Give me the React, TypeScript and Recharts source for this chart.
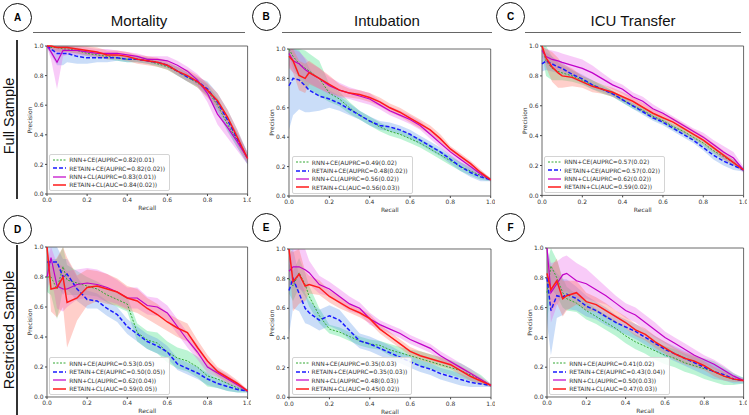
import { ComposedChart, Area, Line, XAxis, YAxis, ReferenceArea, Legend, Label } from 'recharts'

// recall grid shared by every curve
const RECALL = [0, 0.02, 0.05, 0.08, 0.1, 0.15, 0.2, 0.25, 0.3, 0.35, 0.4, 0.45, 0.5, 0.55, 0.6, 0.65, 0.7, 0.75, 0.8, 0.85, 0.9, 0.95, 1]
const TICKS = [0, 0.2, 0.4, 0.6, 0.8, 1]

// A: mortality, full sample
const mortFullRnnCe = [1.0, 0.99, 0.99, 0.98, 0.98, 0.97, 0.95, 0.94, 0.93, 0.92, 0.91, 0.91, 0.90, 0.88, 0.86, 0.83, 0.79, 0.75, 0.70, 0.60, 0.47, 0.36, 0.24]
const mortFullRnnCeSd = [0.01, 0.02, 0.02, 0.02, 0.02, 0.02, 0.02, 0.02, 0.02, 0.02, 0.02, 0.02, 0.02, 0.02, 0.02, 0.03, 0.03, 0.03, 0.04, 0.05, 0.05, 0.05, 0.04]
const mortFullRetCe = [1.0, 0.98, 0.95, 0.95, 0.95, 0.93, 0.92, 0.92, 0.92, 0.92, 0.91, 0.91, 0.90, 0.89, 0.87, 0.83, 0.79, 0.76, 0.71, 0.62, 0.50, 0.37, 0.24]
const mortFullRetCeSd = [0.01, 0.04, 0.08, 0.08, 0.06, 0.05, 0.04, 0.03, 0.03, 0.02, 0.02, 0.02, 0.02, 0.02, 0.02, 0.03, 0.03, 0.03, 0.05, 0.06, 0.07, 0.06, 0.04]
const mortFullRnnCl = [1.0, 0.96, 0.89, 0.97, 0.97, 0.97, 0.96, 0.95, 0.95, 0.95, 0.94, 0.93, 0.91, 0.91, 0.90, 0.87, 0.83, 0.77, 0.68, 0.54, 0.45, 0.35, 0.24]
const mortFullRnnClSd = [0.01, 0.05, 0.18, 0.04, 0.03, 0.03, 0.03, 0.03, 0.03, 0.02, 0.02, 0.02, 0.02, 0.02, 0.03, 0.03, 0.03, 0.04, 0.06, 0.07, 0.07, 0.06, 0.04]
const mortFullRetCl = [1.0, 1.0, 0.99, 0.99, 0.99, 0.98, 0.97, 0.96, 0.94, 0.94, 0.93, 0.91, 0.90, 0.89, 0.87, 0.83, 0.80, 0.76, 0.70, 0.63, 0.52, 0.38, 0.24]
const mortFullRetClSd = [0.01, 0.02, 0.03, 0.03, 0.03, 0.03, 0.03, 0.03, 0.03, 0.03, 0.03, 0.03, 0.03, 0.03, 0.03, 0.03, 0.04, 0.04, 0.05, 0.05, 0.05, 0.05, 0.03]
const mortFullLabels = ['RNN+CE(AUPRC=0.82(0.01)', 'RETAIN+CE(AUPRC=0.82(0.02))', 'RNN+CL(AUPRC=0.83(0.01))', 'RETAIN+CL(AUC=0.84(0.02))']

// B: intubation, full sample
const intFullRnnCe = [1.0, 0.95, 0.9, 0.87, 0.85, 0.8, 0.7, 0.66, 0.6, 0.55, 0.51, 0.47, 0.44, 0.42, 0.39, 0.36, 0.32, 0.28, 0.24, 0.2, 0.17, 0.14, 0.11]
const intFullRnnCeSd = [0.05, 0.08, 0.1, 0.12, 0.12, 0.12, 0.06, 0.05, 0.04, 0.03, 0.03, 0.03, 0.03, 0.03, 0.03, 0.03, 0.03, 0.03, 0.03, 0.03, 0.03, 0.03, 0.01]
const intFullRetCe = [0.75, 0.8, 0.79, 0.75, 0.72, 0.68, 0.66, 0.63, 0.59, 0.55, 0.51, 0.48, 0.47, 0.45, 0.42, 0.38, 0.34, 0.3, 0.25, 0.2, 0.16, 0.13, 0.11]
const intFullRetCeSd = [0.3, 0.25, 0.2, 0.18, 0.15, 0.1, 0.06, 0.05, 0.04, 0.03, 0.03, 0.03, 0.03, 0.03, 0.03, 0.03, 0.03, 0.03, 0.03, 0.03, 0.03, 0.03, 0.01]
const intFullRnnCl = [0.97, 0.92, 0.9, 0.86, 0.84, 0.8, 0.75, 0.72, 0.7, 0.68, 0.66, 0.62, 0.58, 0.55, 0.52, 0.48, 0.42, 0.36, 0.3, 0.25, 0.2, 0.15, 0.11]
const intFullRnnClSd = [0.08, 0.08, 0.08, 0.08, 0.07, 0.07, 0.06, 0.05, 0.04, 0.04, 0.04, 0.03, 0.03, 0.03, 0.03, 0.03, 0.03, 0.03, 0.03, 0.03, 0.03, 0.02, 0.01]
const intFullRetCl = [0.95, 0.92, 0.82, 0.8, 0.84, 0.8, 0.76, 0.72, 0.7, 0.69, 0.67, 0.64, 0.6, 0.57, 0.53, 0.49, 0.45, 0.39, 0.32, 0.27, 0.22, 0.16, 0.11]
const intFullRetClSd = [0.08, 0.08, 0.1, 0.1, 0.08, 0.07, 0.06, 0.04, 0.03, 0.03, 0.03, 0.03, 0.03, 0.03, 0.03, 0.03, 0.03, 0.03, 0.02, 0.02, 0.02, 0.02, 0.01]
const intFullLabels = ['RNN+CE(AUPRC=0.49(0.02)', 'RETAIN+CE(AUPRC=0.48(0.02))', 'RNN+CL(AUPRC=0.56(0.02))', 'RETAIN+CL(AUC=0.56(0.03))']

// C: ICU transfer, full sample
const icuFullRnnCe = [1.0, 0.9, 0.85, 0.83, 0.82, 0.8, 0.77, 0.74, 0.71, 0.68, 0.64, 0.6, 0.57, 0.53, 0.5, 0.46, 0.43, 0.39, 0.35, 0.3, 0.26, 0.22, 0.17]
const icuFullRnnCeSd = [0.05, 0.1, 0.08, 0.06, 0.05, 0.04, 0.03, 0.03, 0.03, 0.02, 0.02, 0.02, 0.02, 0.02, 0.02, 0.02, 0.02, 0.02, 0.02, 0.02, 0.02, 0.02, 0.01]
const icuFullRetCe = [0.88, 0.9, 0.88, 0.86, 0.85, 0.81, 0.78, 0.74, 0.71, 0.68, 0.64, 0.6, 0.56, 0.52, 0.49, 0.45, 0.41, 0.37, 0.32, 0.27, 0.23, 0.2, 0.17]
const icuFullRetCeSd = [0.05, 0.06, 0.05, 0.04, 0.04, 0.03, 0.03, 0.03, 0.02, 0.02, 0.02, 0.02, 0.02, 0.02, 0.02, 0.02, 0.02, 0.02, 0.02, 0.03, 0.03, 0.03, 0.01]
const icuFullRnnCl = [0.97, 0.93, 0.91, 0.9, 0.89, 0.87, 0.85, 0.82, 0.78, 0.74, 0.71, 0.66, 0.63, 0.58, 0.55, 0.51, 0.47, 0.43, 0.39, 0.34, 0.29, 0.25, 0.17]
const icuFullRnnClSd = [0.04, 0.05, 0.06, 0.06, 0.06, 0.06, 0.06, 0.05, 0.04, 0.03, 0.03, 0.03, 0.03, 0.03, 0.02, 0.02, 0.02, 0.02, 0.03, 0.03, 0.04, 0.04, 0.02]
const icuFullRetCl = [1.0, 0.92, 0.86, 0.82, 0.8, 0.79, 0.76, 0.73, 0.71, 0.69, 0.66, 0.63, 0.59, 0.55, 0.52, 0.49, 0.45, 0.41, 0.37, 0.32, 0.27, 0.22, 0.17]
const icuFullRetClSd = [0.02, 0.06, 0.1, 0.1, 0.08, 0.06, 0.04, 0.04, 0.03, 0.03, 0.03, 0.03, 0.03, 0.03, 0.03, 0.03, 0.03, 0.03, 0.03, 0.03, 0.03, 0.02, 0.01]
const icuFullLabels = ['RNN+CE(AUPRC=0.57(0.02)', 'RETAIN+CE(AUPRC=0.57(0.02))', 'RNN+CL(AUPRC=0.62(0.02))', 'RETAIN+CL(AUC=0.59(0.02))']

// D: mortality, restricted sample
const mortResRnnCe = [0.8, 0.8, 0.72, 0.87, 0.78, 0.76, 0.74, 0.72, 0.68, 0.65, 0.62, 0.43, 0.38, 0.36, 0.3, 0.26, 0.24, 0.2, 0.14, 0.12, 0.09, 0.06, 0.04]
const mortResRnnCeSd = [0.1, 0.12, 0.2, 0.15, 0.1, 0.08, 0.06, 0.05, 0.05, 0.05, 0.05, 0.06, 0.06, 0.07, 0.07, 0.07, 0.07, 0.07, 0.07, 0.06, 0.05, 0.03, 0.01]
const mortResRetCe = [0.9, 0.9, 0.9, 0.8, 0.82, 0.72, 0.65, 0.64, 0.59, 0.55, 0.47, 0.42, 0.37, 0.34, 0.3, 0.22, 0.19, 0.16, 0.12, 0.09, 0.07, 0.05, 0.04]
const mortResRetCeSd = [0.1, 0.1, 0.15, 0.12, 0.1, 0.08, 0.06, 0.05, 0.05, 0.05, 0.05, 0.05, 0.05, 0.05, 0.04, 0.04, 0.04, 0.04, 0.04, 0.03, 0.03, 0.02, 0.01]
const mortResRnnCl = [0.8, 0.93, 0.74, 0.72, 0.72, 0.75, 0.76, 0.75, 0.73, 0.7, 0.66, 0.66, 0.61, 0.6, 0.56, 0.47, 0.38, 0.3, 0.2, 0.16, 0.12, 0.08, 0.04]
const mortResRnnClSd = [0.1, 0.12, 0.15, 0.15, 0.12, 0.1, 0.1, 0.1, 0.09, 0.08, 0.07, 0.07, 0.06, 0.06, 0.05, 0.05, 0.05, 0.05, 0.04, 0.03, 0.03, 0.02, 0.01]
const mortResRetCl = [1.0, 0.72, 0.73, 0.8, 0.63, 0.66, 0.73, 0.74, 0.72, 0.7, 0.66, 0.64, 0.59, 0.55, 0.5, 0.46, 0.43, 0.33, 0.24, 0.17, 0.13, 0.09, 0.04]
const mortResRetClSd = [0.05, 0.15, 0.2, 0.2, 0.3, 0.15, 0.12, 0.1, 0.1, 0.09, 0.08, 0.08, 0.07, 0.07, 0.06, 0.06, 0.06, 0.05, 0.04, 0.03, 0.03, 0.02, 0.01]
const mortResLabels = ['RNN+CE(AUPRC=0.53(0.05)', 'RETAIN+CE(AUPRC=0.50(0.05))', 'RNN+CL(AUPRC=0.62(0.04))', 'RETAIN+CL(AUC=0.59(0.05))']

// E: intubation, restricted sample
const intResRnnCe = [0.8, 0.75, 0.84, 0.76, 0.68, 0.55, 0.46, 0.44, 0.41, 0.38, 0.36, 0.35, 0.32, 0.3, 0.28, 0.26, 0.24, 0.22, 0.2, 0.18, 0.15, 0.12, 0.08]
const intResRnnCeSd = [0.1, 0.1, 0.1, 0.08, 0.07, 0.05, 0.03, 0.03, 0.03, 0.03, 0.03, 0.03, 0.04, 0.04, 0.04, 0.05, 0.05, 0.05, 0.05, 0.05, 0.04, 0.03, 0.01]
const intResRetCe = [0.72, 0.8, 0.7, 0.6, 0.57, 0.52, 0.55, 0.52, 0.45, 0.38, 0.36, 0.33, 0.3, 0.27, 0.24, 0.21, 0.19, 0.16, 0.14, 0.12, 0.1, 0.09, 0.08]
const intResRetCeSd = [0.3, 0.2, 0.12, 0.1, 0.08, 0.07, 0.07, 0.07, 0.06, 0.05, 0.05, 0.05, 0.05, 0.04, 0.04, 0.04, 0.04, 0.04, 0.04, 0.04, 0.03, 0.02, 0.01]
const intResRnnCl = [0.85, 0.88, 0.88, 0.86, 0.84, 0.76, 0.73, 0.68, 0.63, 0.6, 0.53, 0.49, 0.46, 0.43, 0.39, 0.36, 0.33, 0.28, 0.24, 0.2, 0.16, 0.12, 0.08]
const intResRnnClSd = [0.1, 0.12, 0.15, 0.15, 0.08, 0.06, 0.05, 0.05, 0.05, 0.04, 0.04, 0.03, 0.03, 0.03, 0.03, 0.03, 0.03, 0.03, 0.03, 0.03, 0.03, 0.02, 0.01]
const intResRetCl = [1.0, 0.78, 0.83, 0.75, 0.76, 0.74, 0.68, 0.64, 0.6, 0.57, 0.53, 0.46, 0.41, 0.36, 0.31, 0.28, 0.26, 0.24, 0.22, 0.18, 0.14, 0.11, 0.08]
const intResRetClSd = [0.05, 0.2, 0.2, 0.1, 0.06, 0.05, 0.04, 0.04, 0.03, 0.03, 0.03, 0.03, 0.03, 0.03, 0.03, 0.03, 0.03, 0.03, 0.03, 0.03, 0.03, 0.02, 0.01]
const intResLabels = ['RNN+CE(AUPRC=0.35(0.03)', 'RETAIN+CE(AUPRC=0.35(0.03))', 'RNN+CL(AUPRC=0.48(0.03))', 'RETAIN+CL(AUC=0.45(0.02))']

// F: ICU transfer, restricted sample
const icuResRnnCe = [0.7, 0.88, 0.8, 0.7, 0.66, 0.63, 0.58, 0.54, 0.5, 0.46, 0.41, 0.37, 0.34, 0.31, 0.28, 0.26, 0.23, 0.21, 0.19, 0.17, 0.14, 0.12, 0.11]
const icuResRnnCeSd = [0.2, 0.15, 0.12, 0.1, 0.08, 0.06, 0.06, 0.05, 0.05, 0.05, 0.05, 0.05, 0.05, 0.06, 0.06, 0.06, 0.06, 0.06, 0.07, 0.07, 0.06, 0.04, 0.02]
const icuResRetCe = [0.8, 0.58, 0.68, 0.67, 0.69, 0.66, 0.61, 0.58, 0.54, 0.5, 0.47, 0.44, 0.4, 0.36, 0.32, 0.29, 0.26, 0.23, 0.2, 0.17, 0.15, 0.12, 0.11]
const icuResRetCeSd = [0.3, 0.3, 0.15, 0.12, 0.1, 0.08, 0.07, 0.06, 0.06, 0.05, 0.05, 0.05, 0.05, 0.05, 0.05, 0.05, 0.05, 0.05, 0.05, 0.05, 0.04, 0.03, 0.02]
const icuResRnnCl = [1.0, 0.7, 0.76, 0.82, 0.83, 0.78, 0.76, 0.72, 0.68, 0.63, 0.58, 0.55, 0.5, 0.45, 0.4, 0.36, 0.32, 0.28, 0.25, 0.22, 0.18, 0.14, 0.11]
const icuResRnnClSd = [0.1, 0.2, 0.15, 0.12, 0.12, 0.12, 0.1, 0.08, 0.06, 0.05, 0.05, 0.05, 0.05, 0.05, 0.04, 0.04, 0.04, 0.04, 0.03, 0.03, 0.03, 0.02, 0.01]
const icuResRetCl = [0.83, 0.72, 0.78, 0.66, 0.68, 0.7, 0.64, 0.62, 0.58, 0.54, 0.5, 0.45, 0.42, 0.37, 0.33, 0.29, 0.26, 0.24, 0.21, 0.17, 0.14, 0.12, 0.11]
const icuResRetClSd = [0.1, 0.15, 0.15, 0.12, 0.1, 0.08, 0.06, 0.05, 0.05, 0.04, 0.04, 0.04, 0.04, 0.04, 0.04, 0.04, 0.04, 0.04, 0.03, 0.03, 0.03, 0.02, 0.01]
const icuResLabels = ['RNN+CE(AUPRC=0.41(0.02)', 'RETAIN+CE(AUPRC=0.43(0.04))', 'RNN+CL(AUPRC=0.50(0.03))', 'RETAIN+CL(AUC=0.47(0.03))']

const STYLES = [
  { stroke: '#33a833', width: 1, dash: '2 1.5', band: '#2fdc7a' },
  { stroke: '#1a1aff', width: 1.5, dash: '4 2', band: '#5a96ea' },
  { stroke: '#c000c8', width: 1.2, dash: undefined, band: '#ea5cea' },
  { stroke: '#ff1a1a', width: 1.5, dash: undefined, band: '#ff6a5a' },
]

const AXIS_FONT = 'DejaVu Sans, sans-serif'
const TITLE_FONT = 'Liberation Sans, Arial, sans-serif'
const tickStyle = { fontSize: 6, fill: '#333', fontFamily: AXIS_FONT }

type Series = { v: number[]; sd: number[] }

function LegendBox({ labels }: { labels: string[] }) {
  return (
    <div style={{ background: 'rgba(255,255,255,0.85)', border: '1px solid #d4d4d4', borderRadius: 2, padding: '1px 4px 1px 3px', fontFamily: AXIS_FONT, fontSize: 6, color: '#333' }}>
      {labels.map((t, k) => (
        <div key={t} style={{ display: 'flex', alignItems: 'center', height: 8.4, whiteSpace: 'nowrap' }}>
          <svg width={13} height={4} style={{ marginRight: 3 }}>
            <line x1={0} y1={2} x2={13} y2={2} stroke={STYLES[k].stroke} strokeWidth={STYLES[k].width} strokeDasharray={STYLES[k].dash} />
          </svg>
          {t}
        </div>
      ))}
    </div>
  )
}

function Panel({ x0, x1, y0, y1, series, labels }: { x0: number; x1: number; y0: number; y1: number; series: Series[]; labels: string[] }) {
  const w = x1 - x0
  const h = y1 - y0
  const data = RECALL.map((r, i) => {
    const row: Record<string, number | number[]> = { r }
    series.forEach((s, k) => {
      row['v' + k] = s.v[i]
      row['b' + k] = [Math.max(0, s.v[i] - s.sd[i]), Math.min(1, s.v[i] + s.sd[i])]
    })
    return row
  })
  return (
    <div style={{ position: 'absolute', left: x0 - 34, top: y0 - 4 }}>
      <ComposedChart width={w + 38} height={h + 20.5} data={data} margin={{ top: 4, right: 4, left: 0, bottom: 0 }}>
        <XAxis dataKey="r" type="number" domain={[0, 1]} ticks={TICKS} tickFormatter={(v: number) => v.toFixed(1)}
          height={16.5} axisLine={false} tickSize={2} tickMargin={2} tick={tickStyle} tickLine={{ stroke: '#444' }} interval={0}>
          <Label value="Recall" position="insideBottom" offset={0} style={{ fontSize: 6, fill: '#333', fontFamily: AXIS_FONT }} />
        </XAxis>
        <YAxis type="number" domain={[0, 1]} ticks={TICKS} tickFormatter={(v: number) => v.toFixed(1)}
          width={34} axisLine={false} tickSize={2} tickMargin={1.5} tick={tickStyle} tickLine={{ stroke: '#444' }} interval={0}>
          <Label value="Precision" angle={-90} position="insideLeft" offset={16.5} style={{ fontSize: 6, fill: '#333', fontFamily: AXIS_FONT, textAnchor: 'middle' }} />
        </YAxis>
        {series.map((_, k) => (
          <Area key={'b' + k} dataKey={'b' + k} type="linear" stroke="none" fill={STYLES[k].band} fillOpacity={0.32}
            dot={false} activeDot={false} isAnimationActive={false} />
        ))}
        {series.map((_, k) => (
          <Line key={'v' + k} dataKey={'v' + k} type="linear" stroke={STYLES[k].stroke} strokeWidth={STYLES[k].width}
            strokeDasharray={STYLES[k].dash} dot={false} activeDot={false} isAnimationActive={false} />
        ))}
        <ReferenceArea x1={0} x2={1} y1={0} y2={1} fill="none" stroke="#444" strokeWidth={0.8} ifOverflow="visible" />
        <Legend layout="horizontal" verticalAlign="middle" align="center"
          wrapperStyle={{ left: 36.5, bottom: 19, width: 'auto', height: 'auto' }}
          content={() => <LegendBox labels={labels} />} />
      </ComposedChart>
    </div>
  )
}

function Badge({ cx, cy, letter }: { cx: number; cy: number; letter: string }) {
  return (
    <div style={{ position: 'absolute', left: cx - 15, top: cy - 15, width: 27, height: 27, border: '1.5px solid #111', borderRadius: '50%',
      display: 'flex', alignItems: 'center', justifyContent: 'center', fontFamily: TITLE_FONT, fontWeight: 700, fontSize: 10 }}>
      {letter}
    </div>
  )
}

function ColTitle({ x0, x1, text }: { x0: number; x1: number; text: string }) {
  return (
    <>
      <div style={{ position: 'absolute', left: x0, width: x1 - x0, top: 12, textAlign: 'center', fontFamily: TITLE_FONT, fontSize: 15, lineHeight: '18px', color: '#111' }}>{text}</div>
      <div style={{ position: 'absolute', left: x0, width: x1 - x0, top: 31.5, height: 1.5, background: '#666' }} />
    </>
  )
}

function RowTitle({ cy, y0, y1, text }: { cy: number; y0: number; y1: number; text: string }) {
  return (
    <>
      <div style={{ position: 'absolute', left: 9, top: cy, transform: 'translate(-50%, -50%) rotate(-90deg)', whiteSpace: 'nowrap',
        fontFamily: TITLE_FONT, fontSize: 14.5, color: '#111' }}>{text}</div>
      <div style={{ position: 'absolute', left: 16, top: y0, width: 1.5, height: y1 - y0, background: '#333' }} />
    </>
  )
}

export default function App() {
  return (
    <div style={{ position: 'absolute', left: 0, top: 0, width: 749, height: 415, background: '#fff', overflow: 'hidden' }}>
      <ColTitle x0={33} x1={245} text="Mortality" />
      <ColTitle x0={282} x1={492} text="Intubation" />
      <ColTitle x0={525} x1={741} text="ICU Transfer" />
      <RowTitle cy={116} y0={40} y1={199} text="Full Sample" />
      <RowTitle cy={330} y0={245} y1={415} text="Restricted Sample" />
      <Badge cx={18} cy={17.5} letter="A" />
      <Badge cx={266.7} cy={17} letter="B" />
      <Badge cx={511} cy={17} letter="C" />
      <Badge cx={18} cy={230} letter="D" />
      <Badge cx={266.7} cy={228} letter="E" />
      <Badge cx={511} cy={228} letter="F" />

      <Panel x0={46.7} x1={247.3} y0={45.7} y1={193.7} labels={mortFullLabels} series={[
        { v: mortFullRnnCe, sd: mortFullRnnCeSd }, { v: mortFullRetCe, sd: mortFullRetCeSd },
        { v: mortFullRnnCl, sd: mortFullRnnClSd }, { v: mortFullRetCl, sd: mortFullRetClSd }]} />
      <Panel x0={289.3} x1={491} y0={49} y1={196} labels={intFullLabels} series={[
        { v: intFullRnnCe, sd: intFullRnnCeSd }, { v: intFullRetCe, sd: intFullRetCeSd },
        { v: intFullRnnCl, sd: intFullRnnClSd }, { v: intFullRetCl, sd: intFullRetClSd }]} />
      <Panel x0={541.7} x1={743.3} y0={46.3} y1={195.7} labels={icuFullLabels} series={[
        { v: icuFullRnnCe, sd: icuFullRnnCeSd }, { v: icuFullRetCe, sd: icuFullRetCeSd },
        { v: icuFullRnnCl, sd: icuFullRnnClSd }, { v: icuFullRetCl, sd: icuFullRetClSd }]} />
      <Panel x0={46.7} x1={247.3} y0={247.3} y1={397.3} labels={mortResLabels} series={[
        { v: mortResRnnCe, sd: mortResRnnCeSd }, { v: mortResRetCe, sd: mortResRetCeSd },
        { v: mortResRnnCl, sd: mortResRnnClSd }, { v: mortResRetCl, sd: mortResRetClSd }]} />
      <Panel x0={289} x1={491} y0={249} y1={397.3} labels={intResLabels} series={[
        { v: intResRnnCe, sd: intResRnnCeSd }, { v: intResRetCe, sd: intResRetCeSd },
        { v: intResRnnCl, sd: intResRnnClSd }, { v: intResRetCl, sd: intResRetClSd }]} />
      <Panel x0={546.7} x1={743.3} y0={248.3} y1={397.3} labels={icuResLabels} series={[
        { v: icuResRnnCe, sd: icuResRnnCeSd }, { v: icuResRetCe, sd: icuResRetCeSd },
        { v: icuResRnnCl, sd: icuResRnnClSd }, { v: icuResRetCl, sd: icuResRetClSd }]} />
    </div>
  )
}
